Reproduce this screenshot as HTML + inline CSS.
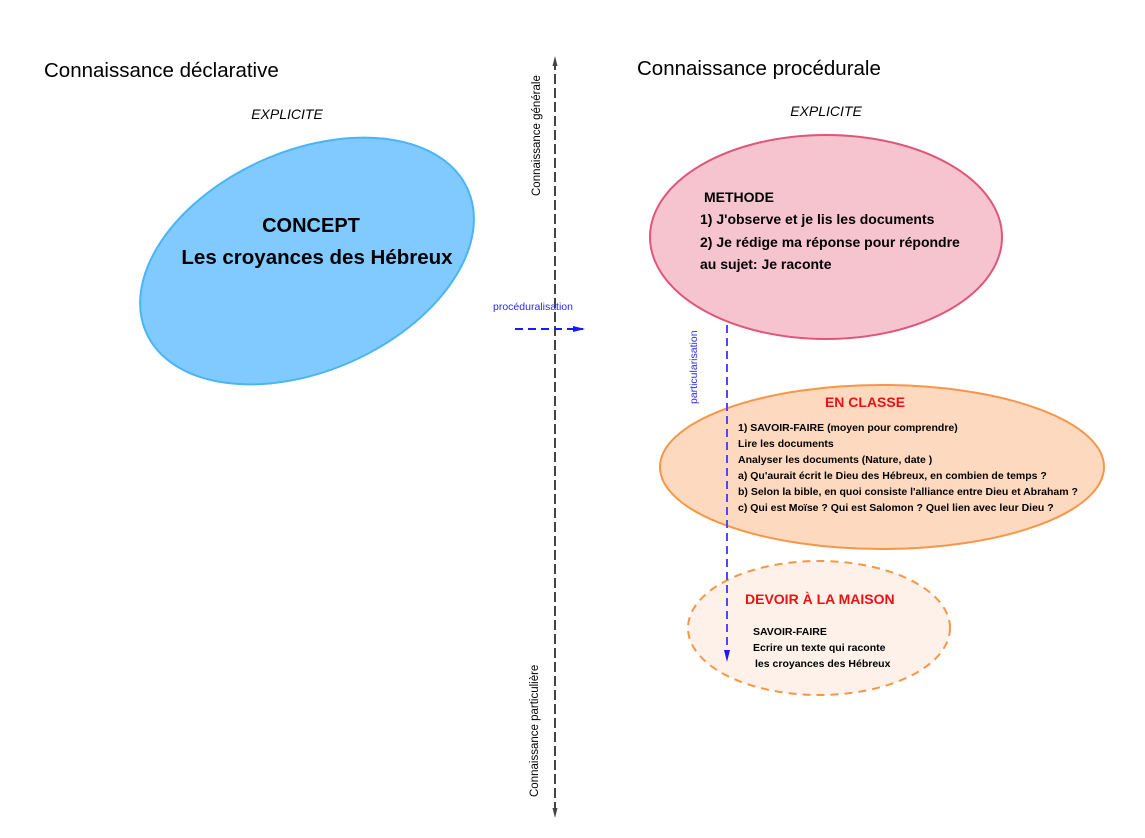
<!DOCTYPE html>
<html><head><meta charset="utf-8"><style>body{margin:0;background:#fff}svg{display:block}</style></head>
<body>
<svg width="1145" height="838" xmlns="http://www.w3.org/2000/svg" font-family="Liberation Sans, sans-serif">
<defs>
<marker id="ag" markerUnits="userSpaceOnUse" markerWidth="10" markerHeight="10" refX="8" refY="5" orient="auto"><path d="M0,2.5 L10,5 L0,7.5 Z" fill="#444"/></marker>
<marker id="ab" markerUnits="userSpaceOnUse" markerWidth="12" markerHeight="10" refX="10" refY="5" orient="auto"><path d="M0,2 L12,5 L0,8 Z" fill="#1a1aff"/></marker>
</defs>
<text x="44" y="77" font-size="20.5">Connaissance déclarative</text>
<text x="637" y="75" font-size="20.5">Connaissance procédurale</text>
<text x="287" y="119" font-size="14" font-style="italic" text-anchor="middle">EXPLICITE</text>
<text x="826" y="116" font-size="14" font-style="italic" text-anchor="middle">EXPLICITE</text>
<line x1="555" y1="810" x2="555" y2="58" stroke="#444" stroke-width="2" stroke-dasharray="8,6" marker-end="url(#ag)"/>
<line x1="555" y1="62" x2="555" y2="816" stroke="#444" stroke-width="2" stroke-dasharray="8,6" marker-end="url(#ag)"/>
<text transform="translate(540,196) rotate(-90)" font-size="11.5">Connaissance  générale</text>
<text transform="translate(538,797) rotate(-90)" font-size="11.5">Connaissance particulière</text>
<ellipse cx="307" cy="261" rx="176" ry="110" transform="rotate(-24 307 261)" fill="#80caff" stroke="#4ab5f5" stroke-width="2"/>
<text x="311" y="232" font-size="20" font-weight="bold" text-anchor="middle">CONCEPT</text>
<text x="317" y="264" font-size="20.5" font-weight="bold" text-anchor="middle">Les croyances des Hébreux</text>
<ellipse cx="826" cy="237" rx="176" ry="102" fill="#f6c4cf" stroke="#e0557a" stroke-width="2"/>
<text x="704" y="202" font-size="14" font-weight="bold">METHODE</text>
<text x="700" y="224" font-size="14" font-weight="bold">1) J'observe et je lis les documents</text>
<text x="700" y="247" font-size="14" font-weight="bold">2) Je rédige ma réponse pour répondre</text>
<text x="700" y="269" font-size="14" font-weight="bold">au sujet: Je raconte</text>
<text x="493" y="310" font-size="10.5" fill="#2a2aff">procéduralisation</text>
<line x1="515" y1="329" x2="583" y2="329" stroke="#1a1aff" stroke-width="2" stroke-dasharray="8,5" marker-end="url(#ab)"/>
<ellipse cx="882" cy="467" rx="222" ry="82" fill="#fdd9bf" stroke="#f79646" stroke-width="2"/>
<ellipse cx="819" cy="628" rx="131" ry="67" fill="#fdf1ea" stroke="#f79646" stroke-width="2" stroke-dasharray="8,6"/>
<line x1="727" y1="325" x2="727" y2="660" stroke="#4a4aff" stroke-width="2" stroke-dasharray="8,5" marker-end="url(#ab)"/>
<text transform="translate(697,404) rotate(-90)" font-size="10.5" fill="#2a2aff">particularisation</text>
<text x="865" y="407" font-size="14" font-weight="bold" fill="#ee1111" text-anchor="middle">EN CLASSE</text>
<g font-size="10.5" font-weight="bold">
<text x="738" y="431">1) SAVOIR-FAIRE (moyen pour comprendre)</text>
<text x="738" y="447">Lire les documents</text>
<text x="738" y="463">Analyser les documents (Nature, date )</text>
<text x="738" y="479">a) Qu'aurait écrit le Dieu des Hébreux, en combien de temps ?</text>
<text x="738" y="495">b) Selon la bible, en quoi consiste l'alliance entre Dieu et Abraham ?</text>
<text x="738" y="511">c) Qui est Moïse ? Qui est Salomon ? Quel lien avec leur Dieu ?</text>
<text x="753" y="635">SAVOIR-FAIRE</text>
<text x="753" y="651">Ecrire un texte qui raconte</text>
<text x="755" y="667">les croyances des Hébreux</text>
</g>
<text x="745" y="604" font-size="14" font-weight="bold" fill="#ee1111">DEVOIR À LA MAISON</text>
</svg>
</body></html>
